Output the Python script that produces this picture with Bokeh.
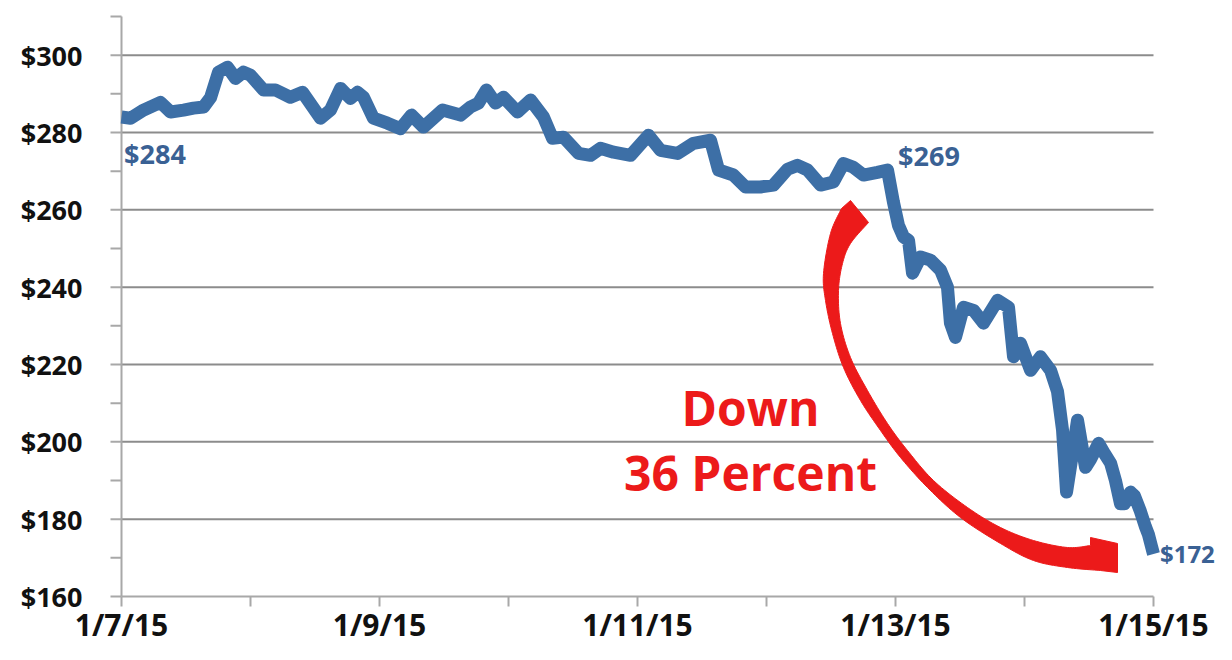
import numpy as np
from bokeh.plotting import figure
from bokeh.models import Range1d
from bokeh.core.properties import value
from bokeh.embed import file_html
from bokeh.resources import INLINE

# ---- data ----
days = [0.000, 0.070, 0.171, 0.302, 0.380, 0.481, 0.558, 0.636, 0.690, 0.752, 0.822, 0.884,
        0.946, 1.000, 1.101, 1.194, 1.310, 1.403, 1.543, 1.620, 1.698, 1.775, 1.829, 1.876,
        1.953, 2.062, 2.163, 2.248, 2.341, 2.488, 2.628, 2.705, 2.767, 2.829, 2.899, 2.961,
        3.070, 3.171, 3.271, 3.341, 3.426, 3.543, 3.636, 3.713, 3.814, 3.946, 4.085, 4.178,
        4.310, 4.434, 4.566, 4.628, 4.744, 4.837, 4.953, 5.054, 5.163, 5.240, 5.318, 5.419,
        5.519, 5.597, 5.674, 5.752, 5.860, 5.938, 5.984, 6.023, 6.062, 6.101, 6.132, 6.194,
        6.271, 6.349, 6.403, 6.426, 6.465, 6.527, 6.605, 6.682, 6.791, 6.876, 6.915, 6.969,
        7.047, 7.124, 7.202, 7.256, 7.295, 7.326, 7.372, 7.411, 7.473, 7.512, 7.574, 7.620,
        7.667, 7.705, 7.744, 7.775, 7.822, 7.853, 7.899, 7.938, 7.961, 7.984, 8.000]
price = [284.0, 283.7, 285.8, 287.8, 285.3, 285.8, 286.3, 286.6, 289.0, 295.6, 296.9, 294.0,
         295.6, 294.8, 291.0, 291.0, 289.1, 290.4, 283.7, 285.8, 291.4, 288.8, 290.4, 289.1,
         283.7, 282.4, 281.0, 284.5, 281.4, 285.8, 284.5, 286.6, 287.6, 291.0, 287.6, 289.1,
         285.3, 288.4, 284.0, 278.5, 278.8, 274.6, 274.1, 275.9, 274.9, 274.1, 279.3, 275.4,
         274.6, 277.2, 278.0, 270.3, 269.0, 265.9, 265.9, 266.4, 270.5, 271.5, 270.3, 266.4,
         267.2, 272.0, 271.0, 269.0, 269.7, 270.3, 262.0, 256.0, 253.0, 252.1, 243.6, 247.8,
         247.0, 244.4, 240.0, 230.7, 227.0, 234.8, 234.0, 230.7, 236.6, 234.8, 222.0, 225.5,
         218.5, 222.0, 218.5, 213.0, 203.0, 187.0, 197.0, 205.6, 193.4, 195.5, 199.6, 197.0,
         194.5, 190.0, 184.0, 184.0, 187.0, 186.0, 182.0, 178.0, 176.0, 173.0, 171.0]

x_tick_days = [0, 2, 4, 6, 8]
x_tick_labels = ["1/7/15", "1/9/15", "1/11/15", "1/13/15", "1/15/15"]
x_all_ticks = [0, 1, 2, 3, 4, 5, 6, 7, 8]
y_ticks = [160, 180, 200, 220, 240, 260, 280, 300]
y_tick_labels = ["$160", "$180", "$200", "$220", "$240", "$260", "$280", "$300"]
y_minor = [170, 190, 210, 230, 250, 270, 290, 310]

callout_text = ["$284", "$269", "$172"]
callout_x = [0.02, 6.02, 8.05]
callout_y = [274.6, 274.0, 171.0]

note_lines = ["Down", "36 Percent"]
note_x = [4.876, 4.876]
note_y = [209.0, 192.1]

FONT = "Open Sans"
BLUE = "#3d6fa6"
LABEL_BLUE = "#3a6194"
RED = "#ec1a1a"
GRID = "#8c8c8c"
AXIS = "#a8a8a8"
INK = "#111111"

# ---- geometry: the frame covers the whole figure ----
W, H = 1216, 644
LEFT, TOP = 121.0, 16.0     # pixel position of day 0 / $310
PXD = 129.0                 # px per day
PXV = (596.0 - 16.0) / 150  # px per dollar


def to_data(px, py):
    return (np.asarray(px, float) - LEFT) / PXD, 310.0 - (np.asarray(py, float) - TOP) / PXV


x0, y1 = to_data(0, 0)
x1, y0 = to_data(W, H)

p = figure(width=W, height=H, output_backend="svg", toolbar_location=None,
           x_range=Range1d(float(x0), float(x1)), y_range=Range1d(float(y0), float(y1)),
           x_axis_location=None, y_axis_location=None,
           min_border=0)
p.outline_line_color = None
p.background_fill_color = "white"
p.border_fill_color = "white"
p.xgrid.visible = False
p.ygrid.visible = False

# gridlines
n = len(y_ticks) - 1
p.segment(x0=[0] * n, x1=[8] * n, y0=y_ticks[1:], y1=y_ticks[1:], line_color=GRID, line_width=2)
# axis lines
p.segment(x0=[0, 0], y0=[160, 160], x1=[8, 0], y1=[160, 310], line_color=AXIS, line_width=2)
# y ticks (major + minor, outside)
ytl = 11 / PXD
yt_all = y_ticks + y_minor
p.segment(x0=[-ytl] * len(yt_all), x1=[0] * len(yt_all), y0=yt_all, y1=yt_all,
          line_color=AXIS, line_width=2)
# x ticks (outside)
xtl = 10 / PXV
p.segment(x0=x_all_ticks, x1=x_all_ticks, y0=[160] * len(x_all_ticks),
          y1=[160 - xtl] * len(x_all_ticks), line_color=AXIS, line_width=2)

# y tick labels
ylab_x = float(to_data(82, 0)[0])
p.text(x=[ylab_x] * len(y_ticks), y=y_ticks, text=y_tick_labels,
       text_font=value(FONT), text_font_style="bold", text_font_size="27px",
       text_color=INK, text_align="right", text_baseline="middle")
# x tick labels
xlab_y = float(to_data(0, 624)[1])
p.text(x=x_tick_days, y=[xlab_y] * len(x_tick_days), text=x_tick_labels,
       text_font=value(FONT), text_font_style="bold", text_font_size="30px",
       text_color=INK, text_align="center", text_baseline="middle")

# ---- decorative curved arrow ----
outer_px = [(841, 208), (830, 233), (823, 273), (825, 300), (832, 333), (843, 367), (860, 400),
            (880, 430), (900, 457), (927, 487), (960, 517), (1000, 543), (1033, 560),
            (1067, 567), (1100, 570)]
inner_px = [(868, 222), (850, 243), (842, 263), (838, 290), (840, 323), (850, 357), (867, 390),
            (887, 423), (907, 450), (933, 480), (967, 507), (1000, 527), (1033, 540),
            (1067, 547), (1090, 545)]
head_px = [(1117, 572), (1117, 543), (1090, 537)]


def catmull(pts, n=12):
    P = np.asarray(pts, float)
    P = np.vstack([P[0], P, P[-1]])
    out = []
    for i in range(1, len(P) - 2):
        p0, p1, p2, p3 = P[i - 1], P[i], P[i + 1], P[i + 2]
        for t in np.linspace(0, 1, n, endpoint=False):
            out.append(0.5 * ((2 * p1) + (-p0 + p2) * t + (2 * p0 - 5 * p1 + 4 * p2 - p3) * t * t
                              + (-p0 + 3 * p1 - 3 * p2 + p3) * t ** 3))
    out.append(P[-2])
    return np.array(out)


o = catmull(outer_px)
i_ = catmull(inner_px)[::-1]
poly = np.vstack([[[850, 200]], o, head_px, i_, [[868, 222]]])
ax, ay = to_data(poly[:, 0], poly[:, 1])
p.patch(ax, ay, fill_color=RED, line_color=RED, line_width=1)

# ---- price line ----
p.line(days, price, line_color=BLUE, line_width=13, line_join="round", line_cap="butt")

# ---- callouts ----
p.text(x=callout_x[:2], y=callout_y[:2], text=callout_text[:2], text_font=value(FONT),
       text_font_style="bold", text_font_size="27px", text_color=LABEL_BLUE,
       text_align="left", text_baseline="middle")
p.text(x=callout_x[2:], y=callout_y[2:], text=callout_text[2:], text_font=value(FONT),
       text_font_style="bold", text_font_size="24px", text_color=LABEL_BLUE,
       text_align="left", text_baseline="middle")
p.text(x=note_x, y=note_y, text=note_lines, text_font=value(FONT),
       text_font_style="bold", text_font_size="48px", text_color=RED,
       text_align="center", text_baseline="middle")

open("out.html", "w").write(file_html(p, INLINE))
